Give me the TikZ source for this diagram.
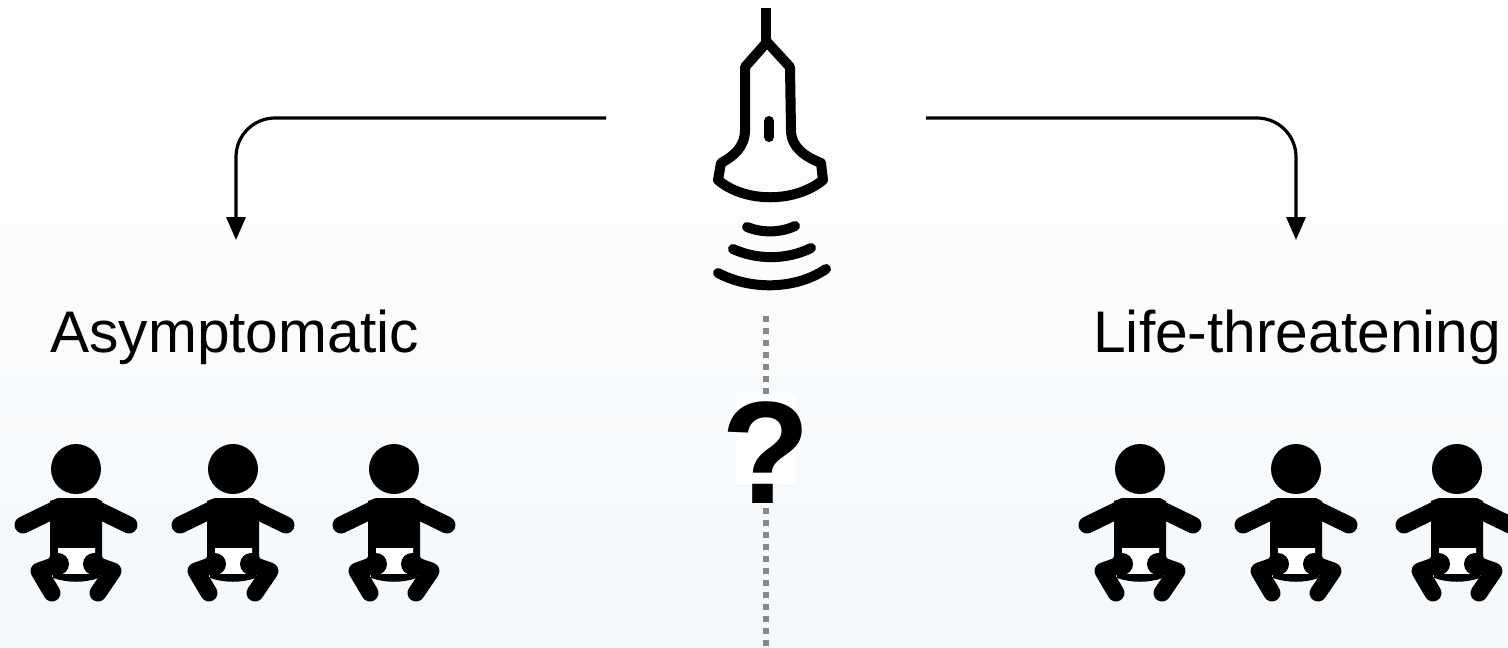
\documentclass[tikz,border=0pt]{standalone}
\usepackage{fontspec}
\setmainfont[Kerning=Off]{Liberation Sans}
\usetikzlibrary{arrows.meta}
\definecolor{bgbottom}{RGB}{244,248,251}
\definecolor{dotgray}{RGB}{136,136,136}
\tikzset{
  px/.style={line width=#1*0.02cm},
  branch/.style={px=3.2,rounded corners=0.78cm,-{Triangle[length=0.46cm,width=0.38cm]}},
  limb/.style={px=17},
  wave/.style={px=10},
  label/.style={anchor=base west,inner sep=0pt,font=\fontsize{33.4}{40}\selectfont},
  baby/.pic={
    \fill (0,0) circle (25);
    \fill (-18,29) -- (20,29) -- (26,32) -- (26,88) -- (-26,88) -- (-26,32) -- cycle;
    \draw[limb] (-16,38) -- (-53,56);
    \draw[limb] (16,38) -- (53,56);
    \fill[white] (-18,79) -- (19,79) -- (19,100) -- (7,106) -- (-7,106) -- (-18,100) -- cycle;
    \draw[limb] (-17,95) -- (-37,102) -- (-24,124);
    \draw[limb] (17,95) -- (37,102) -- (22,124);
    \fill (-18,95) circle (11);
    \fill (18,95) circle (11);
    \fill (-23,105) -- (23,105) -- (23,109) .. controls (8,114) and (-8,114) .. (-23,109) -- cycle;
  }
}
\begin{document}
\begin{tikzpicture}[x=0.02cm,y=-0.02cm,line cap=round,line join=round]
  \useasboundingbox (0,0) rectangle (1508,647);
  \clip (0,0) rectangle (1508,647);
  \shade[top color=white,bottom color=bgbottom] (0,0) rectangle (1508,647);
  % branches
  \coordinate (leftstart) at (606,118);
  \coordinate (leftcorner) at (236,118);
  \coordinate (leftend) at (236,240);
  \coordinate (rightstart) at (926,118);
  \coordinate (rightcorner) at (1296,118);
  \coordinate (rightend) at (1296,240);
  \draw[branch,line cap=butt] (leftstart) -- (leftcorner) -- (leftend);
  \draw[branch,line cap=butt] (rightstart) -- (rightcorner) -- (rightend);
  % probe
  \draw[px=10,line cap=butt] (766,8) -- (766,42);
  \draw[px=10] (767,42) -- (745,67) -- (745,130) .. controls (745,148) and (732,157) .. (721,163)
    -- (718,180) .. controls (745,203) and (795,203) .. (823,180) -- (821,163)
    .. controls (806,157) and (791,148) .. (791,130) -- (790,67) -- cycle;
  \draw[wave] (769,121) -- (769,137);
  \draw[wave] (747,227) .. controls (762,233) and (780,233) .. (795,226);
  \draw[wave] (733,249) .. controls (757,260) and (787,260) .. (811,248);
  \draw[wave] (718,273) .. controls (750,290) and (795,290) .. (826,269);
  % dots
  \coordinate (dotstart) at (766,316);
  \coordinate (dotend) at (766,647);
  \draw[px=6,dotgray,line cap=butt,dash pattern=on 0.12cm off 0.12cm] (dotstart) -- (dotend);
  \fill[white] (736,395) rectangle (795,484);
  \node[font=\fontsize{83}{90}\bfseries\selectfont,inner sep=0pt,anchor=base] (question) at (766,503) {?};
  % labels
  \node[label] (asymptomatic) at (50,352) {Asymptomatic};
  \node[label] (lifethreatening) at (1093,352) {Life-threatening};
  % babies
  \pic at (76,469) {baby};
  \pic at (233,469) {baby};
  \pic at (394,469) {baby};
  \pic at (1140,469) {baby};
  \pic at (1296,469) {baby};
  \pic at (1457,469) {baby};
\end{tikzpicture}
\end{document}
